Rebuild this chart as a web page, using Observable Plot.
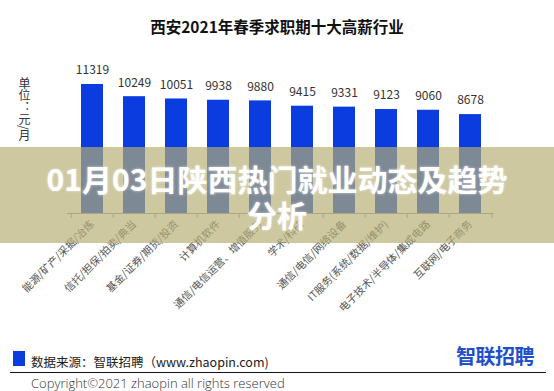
<!DOCTYPE html>
<html>
<head>
<meta charset="utf-8">
<script src="https://cdn.jsdelivr.net/npm/d3@7"></script>
<script src="https://cdn.jsdelivr.net/npm/@observablehq/plot@0.6"></script>
<style>
  html, body { margin: 0; padding: 0; background: #fff; }
  #wrap { position: relative; width: 554px; height: 391px; overflow: hidden; background: #fff;
          font-family: "Noto Sans CJK SC", "Noto Sans", sans-serif; }
  #chart { position: absolute; left: 0; top: 0; }
  .abs { position: absolute; }
  #title { left: 0; width: 554px; top: 14px; text-align: center; font-size: 15.5px; font-weight: bold; color: #111; line-height: 24px; }
  #unit { left: 17px; top: 77px; writing-mode: vertical-rl; font-size: 12px; color: #333; line-height: 14px; }
  #band { left: 0; top: 147px; width: 554px; height: 96px; background: rgba(181,174,115,0.68); }
  #overlay { left: 37px; width: 480px; top: 160px; text-align: center; color: #fff; font-size: 30px; font-weight: bold; line-height: 36px;
             text-shadow: 0 0 3px rgba(255,255,255,0.6); }
  #srcbox { left: 13px; top: 351px; width: 12px; height: 15px; background: #0a3ce0; }
  #src { left: 31px; top: 353px; font-size: 12.5px; color: #222; line-height: 18px; }
  #rule { left: 10px; top: 372px; width: 536px; height: 0; border-top: 1.5px solid #111; }
  #copy { left: 31px; top: 374px; font-size: 13px; color: #333; line-height: 18px; font-family: "Open Sans", "Noto Sans", sans-serif; font-weight: 300; }
  #logo { left: 456px; top: 343px; font-size: 20px; font-weight: bold; color: #1f4fc9; line-height: 26px; letter-spacing: -0.5px; }
</style>
</head>
<body>
<div id="wrap">
  <div id="chart"></div>
  <div id="title" class="abs">西安2021年春季求职期十大高薪行业</div>
  <div id="unit" class="abs">单位：元/月</div>
  <div id="band" class="abs"></div>
  <div id="overlay" class="abs">01月03日陕西热门就业动态及趋势分析</div>
  <div id="srcbox" class="abs"></div>
  <div id="src" class="abs">数据来源：智联招聘（www.zhaopin.com)</div>
  <div id="rule" class="abs"></div>
  <div id="copy" class="abs">Copyright©2021 zhaopin all rights reserved</div>
  <div id="logo" class="abs">智联招聘</div>
</div>
<script>
const industries = [
  "能源/矿产/采掘/冶炼",
  "信托/担保/拍卖/典当",
  "基金/证券/期货/投资",
  "计算机软件",
  "通信/电信运营、增值服务",
  "学术/科研",
  "通信/电信/网络设备",
  "IT服务(系统/数据/维护)",
  "电子技术/半导体/集成电路",
  "互联网/电子商务"
];
const salaries = [11319, 10249, 10051, 9938, 9880, 9415, 9331, 9123, 9060, 8678];

const data = industries.map((c, i) => ({cat: c, value: salaries[i]}));

const W = 554, H = 391, ML = 67, MR = 60, MT = 76.24, MB = 178;
const step = (W - ML - MR) / industries.length;

const chart = Plot.plot({
  width: W,
  height: H,
  marginLeft: ML,
  marginRight: MR,
  marginTop: MT,
  marginBottom: MB,
  style: {fontFamily: "'Noto Sans CJK SC', sans-serif", fontSize: "10.5px", color: "#555", background: "transparent"},
  x: {domain: industries, padding: 0.485, paddingOuter: 0.2425, tickRotate: -45, tickSize: 0, tickPadding: 9, label: null},
  y: {domain: [0, 12000], axis: null},
  marks: [
    Plot.barY(data, {x: "cat", y: "value", fill: "#0a3ce0"}),
    Plot.text(data, {x: "cat", y: "value", text: d => String(d.value), dy: -14, fontSize: 12, fill: "#333"}),
    Plot.ruleY([0], {stroke: "#999"}),
    Plot.ruleX(data, {x: "cat", y1: 0, y2: 0, insetBottom: -5, dx: -step / 2, stroke: "#999"}),
    Plot.ruleX(data.slice(-1), {x: "cat", y1: 0, y2: 0, insetBottom: -5, dx: step / 2, stroke: "#999"})
  ]
});
document.getElementById("chart").appendChild(chart);
</script>
</body>
</html>
